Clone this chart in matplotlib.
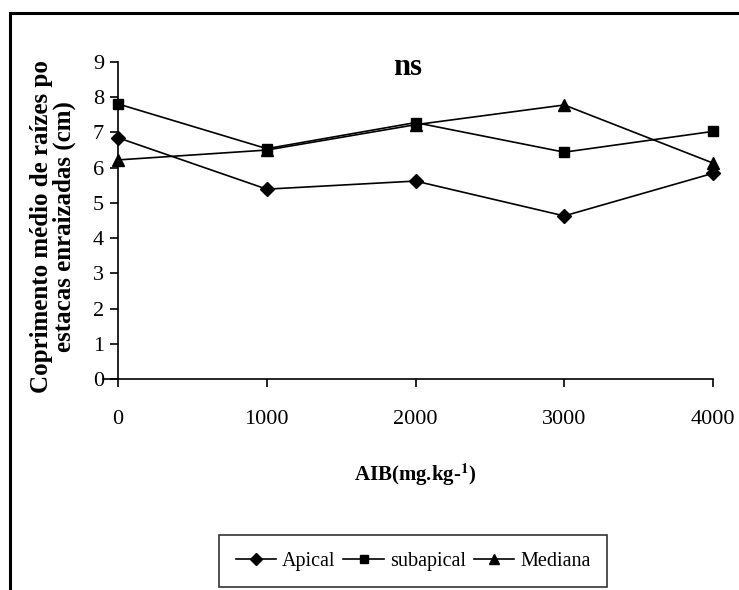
import matplotlib.pyplot as plt
from matplotlib.patches import Rectangle

plt.rcParams['font.family'] = ['Liberation Serif', 'DejaVu Serif']
plt.rcParams['mathtext.fontset'] = 'stix'

doses = [0, 1000, 2000, 3000, 4000]
apical = [6.85, 5.39, 5.62, 4.63, 5.84]
subapical = [7.81, 6.54, 7.28, 6.44, 7.03]
mediana = [6.22, 6.50, 7.22, 7.78, 6.13]
yticks = list(range(0, 10))

fig = plt.figure(figsize=(7.39, 5.90), dpi=100)
# outer frame (only top and left edges show in the original)
fig.patches.append(Rectangle((10 / 739, -0.5), 2.0, 1.5 - 13 / 590, transform=fig.transFigure,
                             fill=False, edgecolor='black', linewidth=2.2))

ax = fig.add_axes([118 / 739, 211 / 590, 595 / 739, 317 / 590])
ax.plot(doses, apical, color='black', lw=1.2, marker='D', ms=7.5, label='Apical', clip_on=False)
ax.plot(doses, subapical, color='black', lw=1.2, marker='s', ms=6.5, label='subapical', clip_on=False)
ax.plot(doses, mediana, color='black', lw=1.2, marker='^', ms=9, label='Mediana', clip_on=False)

ax.set_xlim(0, 4000)
ax.set_ylim(0, 9)
ax.set_yticks(yticks)
ax.set_xticks(doses)
ax.spines['top'].set_visible(False)
ax.spines['right'].set_visible(False)
ax.spines['left'].set_linewidth(1.2)
ax.spines['bottom'].set_linewidth(1.2)
ax.spines['bottom'].set_bounds(-100, 4000)
ax.tick_params(axis='both', direction='out', length=6, width=1.2, labelsize=16, pad=4)
ax.tick_params(axis='x', pad=16)

ax.set_ylabel('Coprimento médio de raízes po\nestacas enraizadas (cm)',
              fontsize=18, fontweight='bold', linespacing=1.0)
ax.yaxis.set_label_coords(-0.07, 0.48)
ax.set_xlabel(r'AIB(mg.kg-$^{\mathbf{1}}$)', fontsize=15, fontweight='bold', labelpad=24)
ax.text(0.486, 0.96, 'ns', transform=ax.transAxes, ha='center', va='baseline',
        fontsize=22, fontweight='bold')

leg = fig.legend(loc='center', bbox_to_anchor=(413 / 739, 1 - 561 / 590), ncol=3,
                 frameon=True, fancybox=False, edgecolor='black', fontsize=14.5,
                 handlelength=2.0, handletextpad=0.3, columnspacing=0.4, borderpad=0.8,
                 markerscale=0.85)
leg.get_frame().set_linewidth(1.2)

fig.savefig('out.png', dpi=100)
